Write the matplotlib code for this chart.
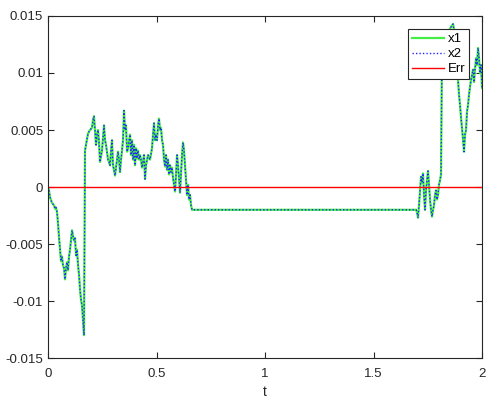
import numpy as np
import matplotlib.pyplot as plt

plt.rcParams['font.family'] = ['Liberation Sans', 'DejaVu Sans']

# time samples and state values
t = [0.0000, 0.0046, 0.0092, 0.0184, 0.0276, 0.0323, 0.0369, 0.0415, 0.0461, 0.0507,
     0.0553, 0.0599, 0.0645, 0.0691, 0.0737, 0.0783, 0.0829, 0.0876, 0.0922, 0.0968,
     0.1014, 0.1060, 0.1106, 0.1152, 0.1198, 0.1244, 0.1290, 0.1336, 0.1382, 0.1429,
     0.1475, 0.1521, 0.1567, 0.1613, 0.1659,
     0.1705, 0.1751, 0.1843, 0.1935, 0.2028, 0.2074, 0.2120, 0.2166, 0.2212, 0.2258,
     0.2304, 0.2350, 0.2396, 0.2488, 0.2581, 0.2627, 0.2673, 0.2765, 0.2811, 0.2857,
     0.2903, 0.2949, 0.2995, 0.3041, 0.3088, 0.3180, 0.3226, 0.3272, 0.3318, 0.3364,
     0.3410, 0.3456, 0.3502, 0.3548, 0.3594, 0.3641, 0.3687, 0.3779, 0.3825, 0.3871,
     0.3917, 0.3963, 0.4009, 0.4055, 0.4101, 0.4147, 0.4194, 0.4240, 0.4286, 0.4332,
     0.4424, 0.4470, 0.4516, 0.4608, 0.4700, 0.4793, 0.4839, 0.4885, 0.4931, 0.4977,
     0.5023, 0.5069, 0.5115, 0.5161, 0.5207, 0.5253, 0.5300, 0.5346, 0.5392, 0.5438,
     0.5484, 0.5530, 0.5576, 0.5622, 0.5668, 0.5714, 0.5760, 0.5806, 0.5853, 0.5899,
     0.5945, 0.5991, 0.6037, 0.6083, 0.6129, 0.6175, 0.6221, 0.6267, 0.6313, 0.6359,
     0.6406, 0.6452, 0.6498, 0.6544, 0.6590, 0.6636,
     1.6959, 1.7005, 1.7051, 1.7097, 1.7143, 1.7189, 1.7235, 1.7281, 1.7327, 1.7373,
     1.7419, 1.7465, 1.7512, 1.7558, 1.7604, 1.7650, 1.7696, 1.7742, 1.7788, 1.7834,
     1.7880, 1.7926, 1.7972, 1.8018, 1.8065, 1.8111,
     1.8157, 1.8249, 1.8387, 1.8525, 1.8664, 1.8710, 1.8756, 1.8802, 1.8848, 1.8894,
     1.8940, 1.8986, 1.9032, 1.9078, 1.9124, 1.9171, 1.9217, 1.9263, 1.9309, 1.9355,
     1.9401, 1.9447, 1.9493, 1.9539, 1.9585, 1.9631, 1.9677, 1.9724, 1.9770, 1.9816,
     1.9862, 1.9908, 1.9954, 2.0000]

x1 = [0.0000, -0.0003, -0.0009, -0.0014, -0.0016, -0.0019, -0.0018, -0.0022, -0.0032, -0.0044,
      -0.0054, -0.0065, -0.0061, -0.0069, -0.0071, -0.0081, -0.0071, -0.0066, -0.0073, -0.0061,
      -0.0055, -0.0046, -0.0038, -0.0043, -0.0047, -0.0045, -0.0060, -0.0055, -0.0068, -0.0077,
      -0.0090, -0.0099, -0.0104, -0.0117, -0.0130,
      0.0032, 0.0037, 0.0047, 0.0050, 0.0052, 0.0059, 0.0062, 0.0050, 0.0037, 0.0046,
      0.0050, 0.0039, 0.0022, 0.0032, 0.0054, 0.0041, 0.0037, 0.0024, 0.0022, 0.0019,
      0.0032, 0.0041, 0.0019, 0.0015, 0.0010, 0.0024, 0.0031, 0.0024, 0.0013, 0.0024,
      0.0032, 0.0041, 0.0067, 0.0050, 0.0054, 0.0031, 0.0034, 0.0046, 0.0028, 0.0041,
      0.0024, 0.0037, 0.0019, 0.0034, 0.0025, 0.0032, 0.0024, 0.0028, 0.0024, 0.0017,
      0.0028, 0.0007, 0.0019, 0.0028, 0.0024, 0.0034, 0.0046, 0.0056, 0.0041, 0.0046,
      0.0041, 0.0054, 0.0060, 0.0050, 0.0052, 0.0041, 0.0037, 0.0024, 0.0018, 0.0028,
      0.0015, 0.0024, 0.0011, 0.0019, 0.0013, 0.0017, 0.0008, 0.0002, -0.0004, 0.0011,
      0.0028, 0.0019, 0.0008, -0.0005, 0.0011, 0.0028, 0.0039, 0.0032, 0.0019, 0.0006,
      -0.0007, 0.0002, -0.0011, -0.0007, -0.0016, -0.0020,
      -0.0020, -0.0022, -0.0027, -0.0016, -0.0003, 0.0009, 0.0004, 0.0012, -0.0007, -0.0020,
      -0.0003, 0.0006, 0.0014, 0.0002, -0.0011, -0.0020, -0.0026, -0.0020, -0.0016, -0.0007,
      -0.0003, -0.0011, -0.0007, 0.0002, 0.0006, 0.0011,
      0.0125, 0.0129, 0.0133, 0.0139, 0.0143, 0.0138, 0.0129, 0.0116, 0.0098, 0.0094,
      0.0081, 0.0072, 0.0061, 0.0052, 0.0042, 0.0031, 0.0046, 0.0050, 0.0066, 0.0072,
      0.0081, 0.0088, 0.0094, 0.0098, 0.0103, 0.0092, 0.0103, 0.0113, 0.0107, 0.0122,
      0.0113, 0.0100, 0.0107, 0.0087]

x2 = list(x1)
err = np.array(x1) - np.array(x2)

fig = plt.figure(figsize=(4.86, 3.98), dpi=100)
ax = fig.add_axes([0.0988, 0.1005, 0.893, 0.8593])

ax.plot(t, x1, color='#44ee44', lw=1.6, label='x1')
ax.plot(t, x2, color='#2222ff', lw=1.0, ls=(0, (1, 1.5)), label='x2')
ax.plot(t, err, color='#ff0000', lw=1.0, label='Err')

ax.set_xlim(0, 2)
ax.set_ylim(-0.015, 0.015)
ax.set_xticks([0, 0.5, 1, 1.5, 2])
ax.set_xticklabels(['0', '0.5', '1', '1.5', '2'])
ax.set_yticks([-0.015, -0.01, -0.005, 0, 0.005, 0.01, 0.015])
ax.set_yticklabels(['-0.015', '-0.01', '-0.005', '0', '0.005', '0.01', '0.015'])
ax.tick_params(direction='in', top=True, right=True, length=4, width=0.8,
               labelsize=9.5, colors='#262626')
ax.tick_params(axis='x', pad=7.5)
for s in ax.spines.values():
    s.set_color('#262626')
    s.set_linewidth(0.8)
ax.set_xlabel('t', fontsize=10, color='#262626', labelpad=3.5)

leg = ax.legend(loc='upper right', bbox_to_anchor=(0.970, 0.962), borderaxespad=0,
                fancybox=False, framealpha=1, edgecolor='#262626', fontsize=9.5,
                handlelength=2.4, handletextpad=0.25, borderpad=0.3, labelspacing=0.22)
leg.get_frame().set_linewidth(0.8)

fig.savefig('out.png', dpi=100)
